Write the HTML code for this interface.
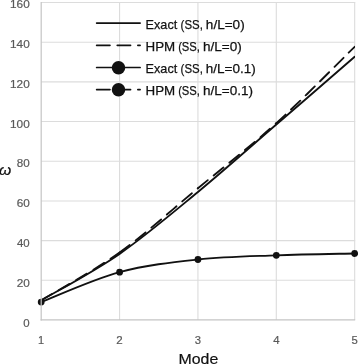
<!DOCTYPE html>
<html lang="en">
<head>
<meta charset="utf-8">
<title>Mode chart</title>
<style>
html,body{margin:0;padding:0;background:#fff;}
body{width:358px;height:364px;overflow:hidden;}
svg{display:block;}
</style>
</head>
<body>
<svg width="358" height="364" viewBox="0 0 358 364">
<rect width="358" height="364" fill="#fff"/>
<g stroke="#dcdcdc" stroke-width="1.1" fill="none">
<line x1="41.20" y1="280.27" x2="355.17" y2="280.27"/>
<line x1="41.20" y1="240.60" x2="355.17" y2="240.60"/>
<line x1="41.20" y1="200.93" x2="355.17" y2="200.93"/>
<line x1="41.20" y1="161.25" x2="355.17" y2="161.25"/>
<line x1="41.20" y1="121.57" x2="355.17" y2="121.57"/>
<line x1="41.20" y1="81.90" x2="355.17" y2="81.90"/>
<line x1="41.20" y1="42.23" x2="355.17" y2="42.23"/>
<line x1="41.20" y1="2.55" x2="355.17" y2="2.55"/>
<line x1="119.57" y1="2.05" x2="119.57" y2="319.95"/>
<line x1="197.94" y1="2.05" x2="197.94" y2="319.95"/>
<line x1="276.30" y1="2.05" x2="276.30" y2="319.95"/>
<line x1="354.67" y1="2.05" x2="354.67" y2="319.95"/>
</g>
<clipPath id="pc"><rect x="0" y="0" width="354.97" height="364"/></clipPath>
<g stroke="#111" stroke-width="1.85" fill="none" stroke-linejoin="round" stroke-linecap="round" clip-path="url(#pc)">
<path d="M41.20 300.37 C54.26 292.62 93.45 271.95 119.57 253.89 C145.69 235.83 171.81 213.55 197.94 192.00 C224.06 170.44 250.18 147.08 276.30 124.55 C302.43 102.02 341.61 68.10 354.67 56.81"/>
<path d="M41.20 300.37 C54.26 292.39 93.45 271.19 119.57 252.50" stroke-dasharray="12.7 7.5" stroke-dashoffset="0"/>
<path d="M119.57 252.50 C145.69 233.81 171.81 209.79 197.94 188.23" stroke-dasharray="12.7 7.5" stroke-dashoffset="0"/>
<path d="M197.94 188.23 C224.06 166.67 250.18 146.74 276.30 123.16" stroke-dasharray="12.7 7.5" stroke-dashoffset="0"/>
<path d="M276.30 123.16 C302.43 99.59 341.61 59.52 354.67 46.79" stroke-dasharray="12.7 7.5" stroke-dashoffset="0"/>
<path d="M41.20 302.10 C54.26 297.11 93.45 279.30 119.57 272.20 C145.69 265.10 171.81 262.32 197.94 259.51 C224.06 256.69 250.18 256.34 276.30 255.34 C302.43 254.34 341.61 253.80 354.67 253.49"/>
</g>
<g fill="#111">
<circle cx="41.20" cy="302.10" r="3.4"/>
<circle cx="119.57" cy="272.20" r="3.4"/>
<circle cx="197.94" cy="259.51" r="3.4"/>
<circle cx="276.30" cy="255.34" r="3.4"/>
<circle cx="354.67" cy="253.49" r="3.4"/>
</g>
<g stroke="#c4c4c4" stroke-width="1.2" fill="none">
<line x1="41.20" y1="2.05" x2="41.20" y2="320.55"/>
<line x1="40.60" y1="319.95" x2="355.17" y2="319.95"/>
</g>
<g stroke="#111" stroke-width="1.7" fill="none" stroke-linecap="round">
<line x1="96.65" y1="23.1" x2="140.1" y2="23.1"/>
<line x1="96.65" y1="45.35" x2="140.1" y2="45.35" stroke-dasharray="13.3 7.3"/>
<line x1="96.65" y1="67.5" x2="140.1" y2="67.5"/>
<line x1="96.65" y1="89.6" x2="140.1" y2="89.6" stroke-dasharray="13.3 7.3"/>
</g>
<circle cx="118.5" cy="67.65" r="6.75" fill="#111"/>
<circle cx="118.5" cy="89.75" r="6.75" fill="#111"/>
<g font-family="'Liberation Sans', sans-serif" fill="#111" stroke="#111" stroke-width="0.25">
<text x="145.59" y="28.80" font-size="13.5" textLength="31.65" lengthAdjust="spacingAndGlyphs">Exact</text>
<text x="180.61" y="28.80" font-size="13.5" textLength="22.26" lengthAdjust="spacingAndGlyphs">(SS,</text>
<text x="205.85" y="28.80" font-size="13.5" textLength="38.81" lengthAdjust="spacingAndGlyphs">h/L=0)</text>
<text x="145.53" y="50.75" font-size="13.5" textLength="29.67" lengthAdjust="spacingAndGlyphs">HPM</text>
<text x="178.13" y="50.75" font-size="13.5" textLength="21.83" lengthAdjust="spacingAndGlyphs">(SS,</text>
<text x="202.95" y="50.75" font-size="13.5" textLength="38.81" lengthAdjust="spacingAndGlyphs">h/L=0)</text>
<text x="145.59" y="73.20" font-size="13.5" textLength="31.65" lengthAdjust="spacingAndGlyphs">Exact</text>
<text x="180.61" y="73.20" font-size="13.5" textLength="22.26" lengthAdjust="spacingAndGlyphs">(SS,</text>
<text x="205.85" y="73.20" font-size="13.5" textLength="49.92" lengthAdjust="spacingAndGlyphs">h/L=0.1)</text>
<text x="145.53" y="95.10" font-size="13.5" textLength="29.67" lengthAdjust="spacingAndGlyphs">HPM</text>
<text x="178.13" y="95.10" font-size="13.5" textLength="21.83" lengthAdjust="spacingAndGlyphs">(SS,</text>
<text x="202.95" y="95.10" font-size="13.5" textLength="50.02" lengthAdjust="spacingAndGlyphs">h/L=0.1)</text>
</g>
<g font-family="'Liberation Sans', sans-serif" fill="#595959" stroke="#595959" stroke-width="0.2">
<text x="23.29" y="326.70" font-size="11.8" textLength="6.37" lengthAdjust="spacingAndGlyphs">0</text>
<text x="16.66" y="286.89" font-size="11.8" textLength="13.09" lengthAdjust="spacingAndGlyphs">20</text>
<text x="17.02" y="247.08" font-size="11.8" textLength="12.71" lengthAdjust="spacingAndGlyphs">40</text>
<text x="16.66" y="207.27" font-size="11.8" textLength="13.09" lengthAdjust="spacingAndGlyphs">60</text>
<text x="16.78" y="167.46" font-size="11.8" textLength="12.96" lengthAdjust="spacingAndGlyphs">80</text>
<text x="10.01" y="127.65" font-size="11.8" textLength="19.70" lengthAdjust="spacingAndGlyphs">100</text>
<text x="10.01" y="87.84" font-size="11.8" textLength="19.70" lengthAdjust="spacingAndGlyphs">120</text>
<text x="10.01" y="48.03" font-size="11.8" textLength="19.70" lengthAdjust="spacingAndGlyphs">140</text>
<text x="10.01" y="8.22" font-size="11.8" textLength="19.70" lengthAdjust="spacingAndGlyphs">160</text>
<text x="37.98" y="344.40" font-size="11.8" textLength="6.08" lengthAdjust="spacingAndGlyphs">1</text>
<text x="116.34" y="344.40" font-size="11.8" textLength="6.41" lengthAdjust="spacingAndGlyphs">2</text>
<text x="194.83" y="344.40" font-size="11.8" textLength="6.27" lengthAdjust="spacingAndGlyphs">3</text>
<text x="273.18" y="344.40" font-size="11.8" textLength="6.33" lengthAdjust="spacingAndGlyphs">4</text>
<text x="351.57" y="344.40" font-size="11.8" textLength="6.27" lengthAdjust="spacingAndGlyphs">5</text>
</g>
<g font-family="'Liberation Sans', sans-serif" fill="#111" stroke="#111" stroke-width="0.2">
<text x="178.53" y="363.60" font-size="14.6" textLength="39.73" lengthAdjust="spacingAndGlyphs">Mode</text>
<text x="-0.97" y="174.50" font-size="14.1" textLength="12.22" lengthAdjust="spacingAndGlyphs" font-style="italic">ω</text>
</g>
</svg>
</body>
</html>
